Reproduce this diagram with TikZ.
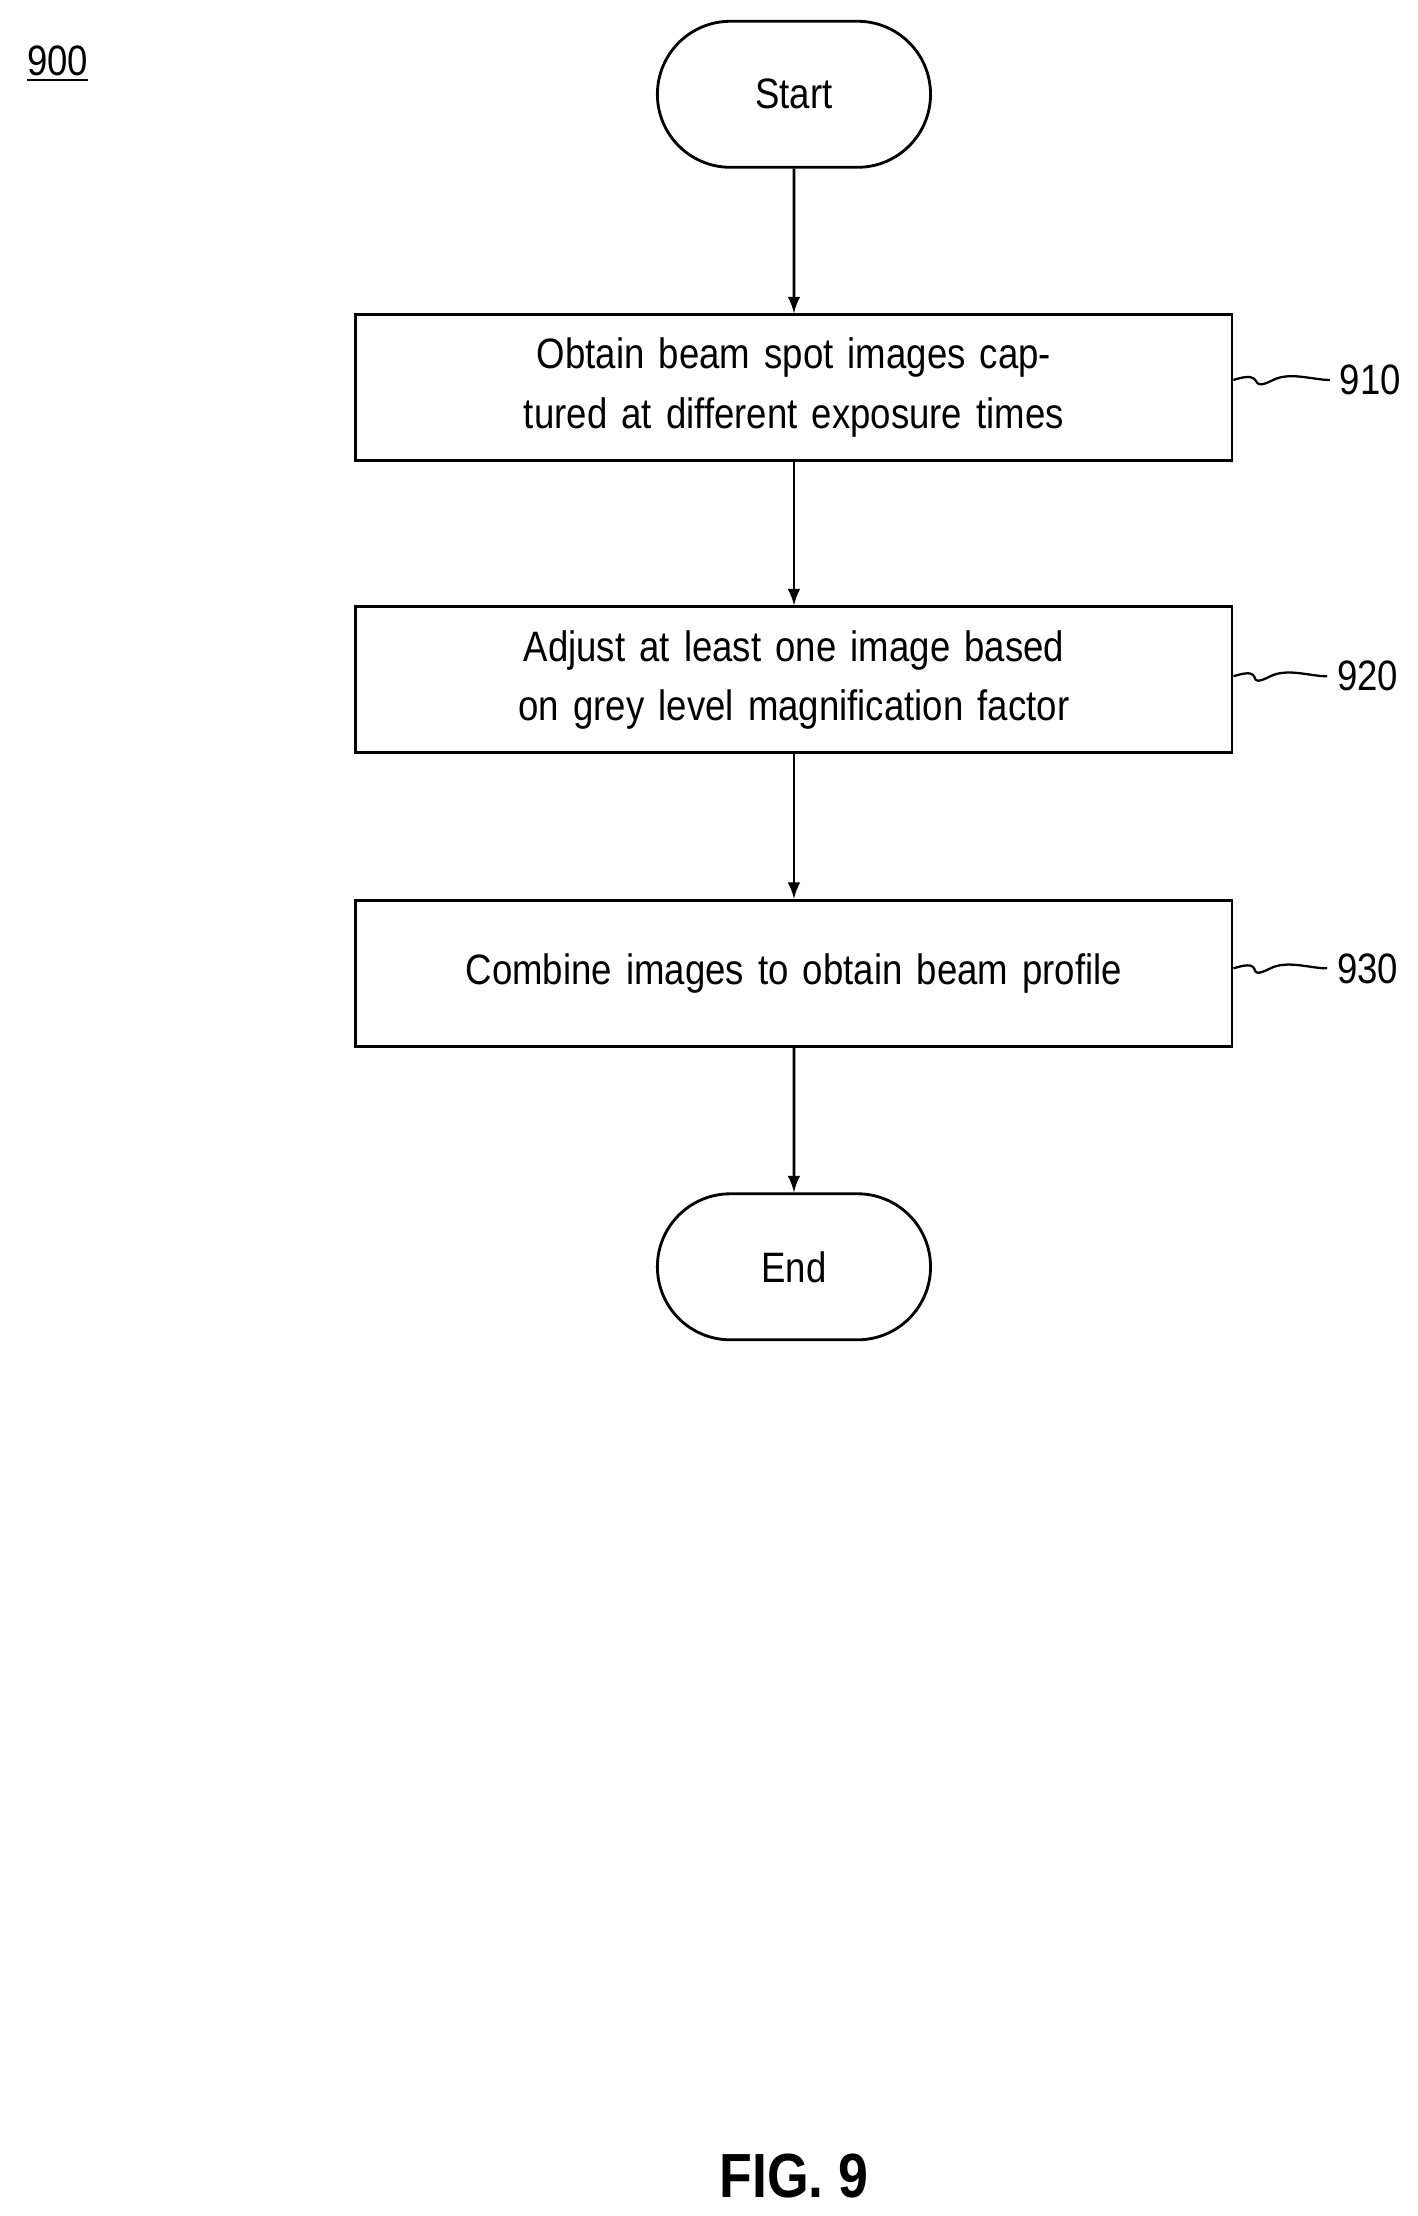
\documentclass[tikz,border=0pt]{standalone}
\usepackage{fontspec}
\setmainfont{Liberation Sans}[FakeStretch=0.86]
\usetikzlibrary{arrows,shapes,calc}

\begin{document}
\begin{tikzpicture}[x=0.5pt,y=-0.5pt]
\tikzstyle{term}=[rounded rectangle, draw=black, line width=1pt, minimum width=103pt, minimum height=51.5pt, font=\fontsize{15}{18}\selectfont]
\tikzstyle{proc}=[rectangle, draw=black, line width=1pt, minimum width=309pt, minimum height=51.5pt, text width=300pt, align=center, font=\fontsize{15}{21}\selectfont]
\tikzstyle{connect}=[-latex, line width=1pt]
\tikzstyle{ref}=[font=\fontsize{15}{18}\selectfont, anchor=west]
\tikzstyle{squig}=[line width=0.8pt]

  \useasboundingbox (0,0) rectangle (1000,1563);

  \node[anchor=west] (fig) at (12,45) {\fontsize{15}{18}\selectfont\underline{900}};

  \node[term] (start) at (560,66.5)  {Start};
  \node[proc] (s910)  at (560,273.5) {Obtain beam spot images captured at different exposure times};
  \node[proc] (s920)  at (560,479.5) {Adjust at least one image based on grey level magnification factor};
  \node[proc] (s930)  at (560,686.5) {Combine images to obtain beam profile};
  \node[term] (end)   at (560,893.5) {End};

  \node[ref] (l910) at (938,268) {910};
  \node[ref] (l920) at (936,477) {920};
  \node[ref] (l930) at (936,683) {930};

  \draw[squig] (s910.east |- l910) .. controls +(25,-8) and +(-20,10) .. (898,268) .. controls +(12,-6) and +(-12,0) .. (l910.west);
  \draw[squig] (s920.east |- l920) .. controls +(25,-8) and +(-20,10) .. (896,477) .. controls +(12,-6) and +(-12,0) .. (l920.west);
  \draw[squig] (s930.east |- l930) .. controls +(25,-8) and +(-20,10) .. (896,683) .. controls +(12,-6) and +(-12,0) .. (l930.west);

  \path (start) edge [connect] (s910);
  \path (s910)  edge [connect] (s920);
  \path (s920)  edge [connect] (s930);
  \path (s930)  edge [connect] (end);

  \node (caption) at (560,1535) {\fontsize{22}{26}\selectfont\bfseries FIG. 9};
\end{tikzpicture}
\end{document}
